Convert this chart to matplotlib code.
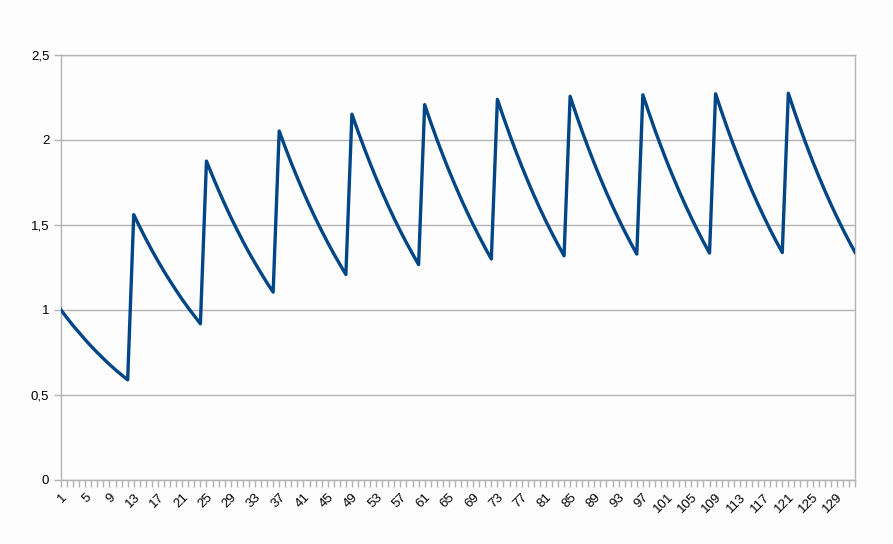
import numpy as np
import matplotlib.pyplot as plt
from matplotlib.ticker import FuncFormatter

# concentration after a dose every 12 steps
level = [
	1.000, 0.953, 0.908, 0.866, 0.825, 0.786, 0.749, 0.714, 0.680, 0.648, 0.618, 0.589,
	1.561, 1.488, 1.418, 1.351, 1.288, 1.227, 1.170, 1.115, 1.062, 1.012, 0.965, 0.919,
	1.876, 1.788, 1.704, 1.624, 1.547, 1.475, 1.405, 1.339, 1.277, 1.217, 1.159, 1.105,
	2.053, 1.956, 1.864, 1.777, 1.693, 1.614, 1.538, 1.466, 1.397, 1.331, 1.269, 1.209,
	2.152, 2.051, 1.955, 1.863, 1.775, 1.692, 1.612, 1.536, 1.464, 1.395, 1.330, 1.267,
	2.208, 2.104, 2.005, 1.911, 1.821, 1.736, 1.654, 1.576, 1.502, 1.432, 1.364, 1.300,
	2.239, 2.134, 2.034, 1.938, 1.847, 1.760, 1.677, 1.598, 1.523, 1.452, 1.384, 1.319,
	2.257, 2.150, 2.049, 1.953, 1.861, 1.774, 1.690, 1.611, 1.535, 1.463, 1.394, 1.329,
	2.266, 2.160, 2.058, 1.962, 1.869, 1.782, 1.698, 1.618, 1.542, 1.470, 1.400, 1.335,
	2.272, 2.165, 2.063, 1.966, 1.874, 1.786, 1.702, 1.622, 1.546, 1.473, 1.404, 1.338,
	2.275, 2.168, 2.066, 1.969, 1.876, 1.788, 1.704, 1.624, 1.548, 1.475, 1.406, 1.340,
]
steps = list(range(1, len(level) + 1))
xlabels = steps[::4]

bg = "#fcfdfc"
grid = "#b3b3b3"
plt.rcParams["font.family"] = ["Liberation Sans", "DejaVu Sans"]

fig = plt.figure(figsize=(8.93, 5.44), dpi=100, facecolor=bg)
ax = fig.add_axes([61/893, 1-480/544, (855-61)/893, (480-55)/544])
ax.set_facecolor(bg)

ax.plot(steps, level, color="#004586", linewidth=2.4, solid_joinstyle="round", zorder=3)

ax.set_xlim(1, len(level))
ax.set_ylim(0, 2.5)
ax.set_yticks(np.arange(0, 2.51, 0.5))
ax.yaxis.set_major_formatter(FuncFormatter(lambda v, p: ("%g" % v).replace(".", ",")))
ax.set_xticks(xlabels)
ax.set_xticklabels([str(s) for s in xlabels], rotation=45, ha="right", rotation_mode="anchor")
ax.set_xticks(steps, minor=True)

ax.grid(axis="y", color=grid, linewidth=1)
for sp in ["left", "right", "bottom", "top"]:
	ax.spines[sp].set_color(grid)
	ax.spines[sp].set_linewidth(1)
ax.tick_params(axis="both", which="both", color=grid, direction="out", length=5, width=1, labelsize=9.5, labelcolor="black")
ax.tick_params(axis="x", which="major", pad=3)

plt.savefig("out.png", dpi=100, facecolor=bg)
